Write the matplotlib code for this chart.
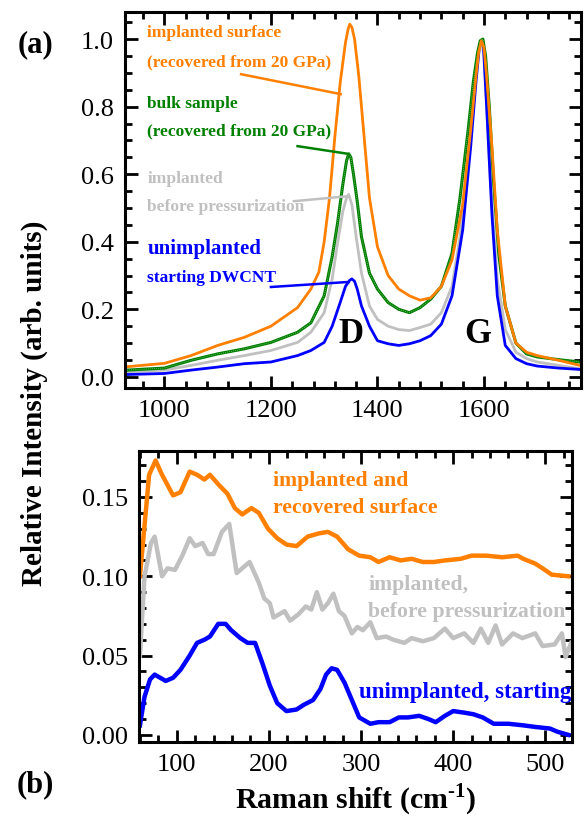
import numpy as np
import matplotlib
matplotlib.use('Agg')
import matplotlib.pyplot as plt
from matplotlib.ticker import MultipleLocator

plt.rcParams['font.family'] = ['Liberation Serif', 'DejaVu Serif']
plt.rcParams['mathtext.fontset'] = 'custom'
plt.rcParams['mathtext.rm'] = 'Liberation Serif:bold'
plt.rcParams['mathtext.bf'] = 'Liberation Serif:bold'

# ---- (a) D and G band spectra ----
shift_orange = [930, 1000, 1050, 1100, 1150, 1200, 1250, 1275, 1290, 1300, 1310, 1320, 1330, 1340, 1345,
                1348, 1352, 1357, 1365, 1375, 1385, 1400, 1420, 1440, 1460, 1480, 1500, 1520, 1540,
                1560, 1575, 1585, 1590, 1595, 1600, 1605, 1615, 1625, 1640, 1660, 1680, 1700, 1740, 1780]
surface = [0.03, 0.04, 0.063, 0.093, 0.117, 0.15, 0.205, 0.26, 0.31, 0.40, 0.53, 0.71, 0.87, 0.99, 1.03,
           1.044, 1.035, 1.0, 0.89, 0.71, 0.53, 0.385, 0.30, 0.26, 0.24, 0.227, 0.234, 0.268, 0.346,
           0.51, 0.73, 0.89, 0.96, 0.995, 0.975, 0.89, 0.68, 0.434, 0.21, 0.10, 0.073, 0.063, 0.049, 0.034]

shift_green = [930, 1000, 1050, 1100, 1150, 1200, 1250, 1275, 1300, 1315, 1325, 1335, 1342, 1346, 1350,
               1355, 1362, 1370, 1385, 1400, 1420, 1440, 1460, 1480, 1500, 1520, 1540, 1555, 1570,
               1580, 1588, 1593, 1598, 1603, 1610, 1618, 1628, 1640, 1660, 1680, 1700, 1740, 1780]
bulk = [0.02, 0.026, 0.049, 0.068, 0.083, 0.102, 0.132, 0.16, 0.24, 0.356, 0.454, 0.57, 0.64, 0.66, 0.65,
        0.60, 0.52, 0.415, 0.307, 0.26, 0.22, 0.20, 0.19, 0.205, 0.23, 0.268, 0.366, 0.53, 0.727,
        0.873, 0.96, 0.995, 1.0, 0.95, 0.80, 0.58, 0.36, 0.21, 0.10, 0.068, 0.059, 0.051, 0.044]

shift_gray = [930, 1000, 1050, 1100, 1150, 1200, 1250, 1275, 1300, 1315, 1325, 1335, 1342, 1346, 1352,
              1360, 1370, 1385, 1400, 1420, 1440, 1460, 1480, 1500, 1520, 1540, 1555, 1570, 1580,
              1587, 1592, 1596, 1600, 1605, 1612, 1625, 1640, 1660, 1680, 1700, 1740, 1780]
implanted = [0.015, 0.02, 0.034, 0.049, 0.063, 0.078, 0.102, 0.132, 0.19, 0.29, 0.395, 0.49, 0.53, 0.54, 0.51,
             0.415, 0.307, 0.21, 0.17, 0.15, 0.14, 0.137, 0.146, 0.156, 0.19, 0.268, 0.415, 0.65, 0.82,
             0.94, 0.985, 0.99, 0.95, 0.80, 0.58, 0.29, 0.14, 0.073, 0.054, 0.044, 0.034, 0.024]

shift_blue = [930, 1000, 1050, 1100, 1150, 1200, 1250, 1275, 1300, 1315, 1330, 1340, 1348, 1352, 1357,
              1362, 1370, 1385, 1400, 1420, 1440, 1460, 1480, 1500, 1520, 1540, 1560, 1575, 1585,
              1591, 1595, 1599, 1605, 1615, 1625, 1640, 1660, 1680, 1700, 1740, 1780]
unimplanted = [0.007, 0.01, 0.02, 0.029, 0.039, 0.044, 0.063, 0.078, 0.102, 0.15, 0.22, 0.268, 0.286, 0.29, 0.283,
               0.26, 0.21, 0.15, 0.107, 0.098, 0.093, 0.098, 0.107, 0.122, 0.156, 0.24, 0.434, 0.68, 0.873,
               0.97, 0.995, 0.98, 0.80, 0.48, 0.24, 0.093, 0.054, 0.039, 0.032, 0.026, 0.022]

# ---- (b) low-frequency (RBM) region ----
rbm_shift_orange = [60, 70, 77, 84, 96, 104, 114, 122, 130, 136, 145, 155, 163, 171, 181, 189, 199, 209, 219,
                    230, 242, 254, 264, 274, 286, 298, 310, 319, 331, 343, 355, 367, 379, 391, 408, 420,
                    436, 453, 470, 476, 489, 497, 507, 525]
rbm_surface = [0.100, 0.164, 0.173, 0.164, 0.151, 0.153, 0.166, 0.164, 0.161, 0.164, 0.158, 0.152, 0.143,
               0.139, 0.143, 0.140, 0.130, 0.124, 0.120, 0.119, 0.125, 0.127, 0.128, 0.125, 0.117, 0.113,
               0.112, 0.109, 0.112, 0.110, 0.111, 0.109, 0.109, 0.110, 0.111, 0.113, 0.113, 0.112, 0.113,
               0.111, 0.108, 0.105, 0.101, 0.100]

rbm_shift_gray = [60, 65, 72, 76, 84, 90, 98, 106, 114, 120, 128, 134, 140, 149, 157, 165, 171, 179, 189,
                  195, 201, 205, 211, 217, 223, 232, 240, 246, 252, 258, 264, 270, 276, 282, 290, 296,
                  302, 310, 317, 327, 335, 347, 355, 367, 379, 391, 400, 412, 422, 430, 438, 446, 453,
                  465, 475, 489, 497, 510, 518, 522, 528]
rbm_implanted = [0.050, 0.100, 0.121, 0.125, 0.100, 0.105, 0.104, 0.113, 0.124, 0.119, 0.121, 0.114, 0.114,
                 0.128, 0.133, 0.102, 0.105, 0.109, 0.096, 0.086, 0.083, 0.074, 0.076, 0.078, 0.072,
                 0.076, 0.081, 0.079, 0.090, 0.079, 0.083, 0.089, 0.078, 0.075, 0.064, 0.068, 0.066,
                 0.071, 0.061, 0.062, 0.060, 0.058, 0.061, 0.059, 0.061, 0.067, 0.061, 0.064, 0.058,
                 0.067, 0.058, 0.069, 0.057, 0.064, 0.061, 0.064, 0.056, 0.057, 0.064, 0.049, 0.058]

rbm_shift_blue = [60, 65, 71, 76, 88, 96, 104, 114, 122, 130, 136, 145, 153, 159, 169, 177, 185, 193, 201,
                  209, 219, 230, 238, 248, 256, 262, 268, 274, 282, 290, 298, 310, 319, 331, 341, 351,
                  363, 373, 381, 391, 400, 412, 422, 432, 444, 460, 476, 489, 505, 513, 525]
rbm_unimplanted = [0.006, 0.024, 0.035, 0.038, 0.034, 0.036, 0.041, 0.050, 0.058, 0.060, 0.062, 0.070,
                   0.070, 0.066, 0.061, 0.058, 0.058, 0.045, 0.031, 0.020, 0.015, 0.016, 0.019, 0.022,
                   0.029, 0.038, 0.042, 0.041, 0.033, 0.022, 0.011, 0.007, 0.008, 0.008, 0.011, 0.011,
                   0.012, 0.010, 0.008, 0.012, 0.015, 0.014, 0.013, 0.011, 0.007, 0.007, 0.006, 0.005,
                   0.004, 0.002, 0.000]

ORANGE = '#ff8000'
GREEN = '#008000'
GRAY = '#c0c0c0'
BLUE = '#0000ff'

fig = plt.figure(figsize=(5.86, 8.2), dpi=100)
ax1 = fig.add_axes([0.2133, 0.5256, 0.778, 0.4585])
ax2 = fig.add_axes([0.2372, 0.0939, 0.739, 0.3549])


def style(ax):
    for s in ax.spines.values():
        s.set_linewidth(2.2)
    ax.tick_params(which='both', direction='in', top=True, right=True, width=2.0,
                   labelsize=19, pad=8)
    ax.tick_params(which='major', length=9)
    ax.tick_params(which='minor', length=5)


# top panel
ax1.plot(shift_gray, implanted, color=GRAY, lw=2.0)
ax1.plot(shift_blue, unimplanted, color=BLUE, lw=2.0)
ax1.plot(shift_green, bulk, color=GREEN, lw=2.2)
ax1.plot(shift_green, bulk, color='white', lw=0.5, ls=(0, (1, 2)), alpha=0.7)
ax1.plot(shift_orange, surface, color=ORANGE, lw=2.0)
ax1.set_xlim(926, 1782)
ax1.set_ylim(-0.033, 1.08)
ax1.xaxis.set_major_locator(MultipleLocator(200))
ax1.xaxis.set_minor_locator(MultipleLocator(40))
ax1.yaxis.set_major_locator(MultipleLocator(0.2))
ax1.yaxis.set_minor_locator(MultipleLocator(0.05))
ax1.yaxis.set_major_formatter(plt.FormatStrFormatter('%.1f'))
style(ax1)

tk = dict(fontsize=12.5, fontweight='bold', ha='left', va='center')
ax1.text(968, 1.02, 'implanted surface', color=ORANGE, **tk)
ax1.text(968, 0.935, '(recovered from 20 GPa)', color=ORANGE, **tk)
ax1.text(968, 0.81, 'bulk sample', color=GREEN, **tk)
ax1.text(968, 0.73, '(recovered from 20 GPa)', color=GREEN, **tk)
ax1.text(968, 0.59, 'implanted', color=GRAY, **tk)
ax1.text(968, 0.505, 'before pressurization', color=GRAY, **tk)
ax1.text(968, 0.38, 'unimplanted', color=BLUE, fontsize=15, fontweight='bold', ha='left', va='center')
ax1.text(968, 0.296, 'starting DWCNT', color=BLUE, **tk)
ax1.plot([1144, 1331], [0.896, 0.837], color=ORANGE, lw=1.8)
ax1.plot([1250, 1346], [0.683, 0.66], color=GREEN, lw=1.8)
ax1.plot([1243, 1346], [0.52, 0.535], color=GRAY, lw=1.8)
ax1.plot([1200, 1346], [0.266, 0.281], color=BLUE, lw=1.8)
ax1.text(1350, 0.127, 'D', fontsize=25, fontweight='bold', ha='center', va='center')
ax1.text(1589, 0.127, 'G', fontsize=25, fontweight='bold', ha='center', va='center')

# bottom panel
ax2.plot(rbm_shift_gray, rbm_implanted, color=GRAY, lw=3.2)
ax2.plot(rbm_shift_orange, rbm_surface, color=ORANGE, lw=3.2)
ax2.plot(rbm_shift_blue, rbm_unimplanted, color=BLUE, lw=3.2)
ax2.set_xlim(59, 529)
ax2.set_ylim(-0.0045, 0.179)
ax2.xaxis.set_major_locator(MultipleLocator(100))
ax2.xaxis.set_minor_locator(MultipleLocator(20))
ax2.yaxis.set_major_locator(MultipleLocator(0.05))
ax2.yaxis.set_minor_locator(MultipleLocator(0.01))
ax2.yaxis.set_major_formatter(plt.FormatStrFormatter('%.2f'))
style(ax2)

bk = dict(fontsize=15.7, fontweight='bold', ha='left', va='center')
ax2.text(204, 0.1606, 'implanted and', color=ORANGE, **bk)
ax2.text(204, 0.1437, 'recovered surface', color=ORANGE, **bk)
ax2.text(308, 0.095, 'implanted,', color=GRAY, **bk)
ax2.text(308, 0.078, 'before pressurization', color=GRAY, **bk)
ax2.text(298, 0.0275, 'unimplanted, starting', color=BLUE, clip_on=False,
         fontsize=16.5, fontweight='bold', ha='left', va='center')

ax2.set_xlabel(r'Raman shift (cm$^{\text{-}1}$)', fontsize=21.5, fontweight='bold', labelpad=4)
fig.text(0.058, 0.508, 'Relative Intensity (arb. units)', rotation=90, fontsize=21,
         fontweight='bold', ha='center', va='center')
fig.text(0.06, 0.945, '(a)', fontsize=22, fontweight='bold', ha='center', va='center')
fig.text(0.06, 0.043, '(b)', fontsize=22, fontweight='bold', ha='center', va='center')

fig.savefig('out.png', dpi=100)
